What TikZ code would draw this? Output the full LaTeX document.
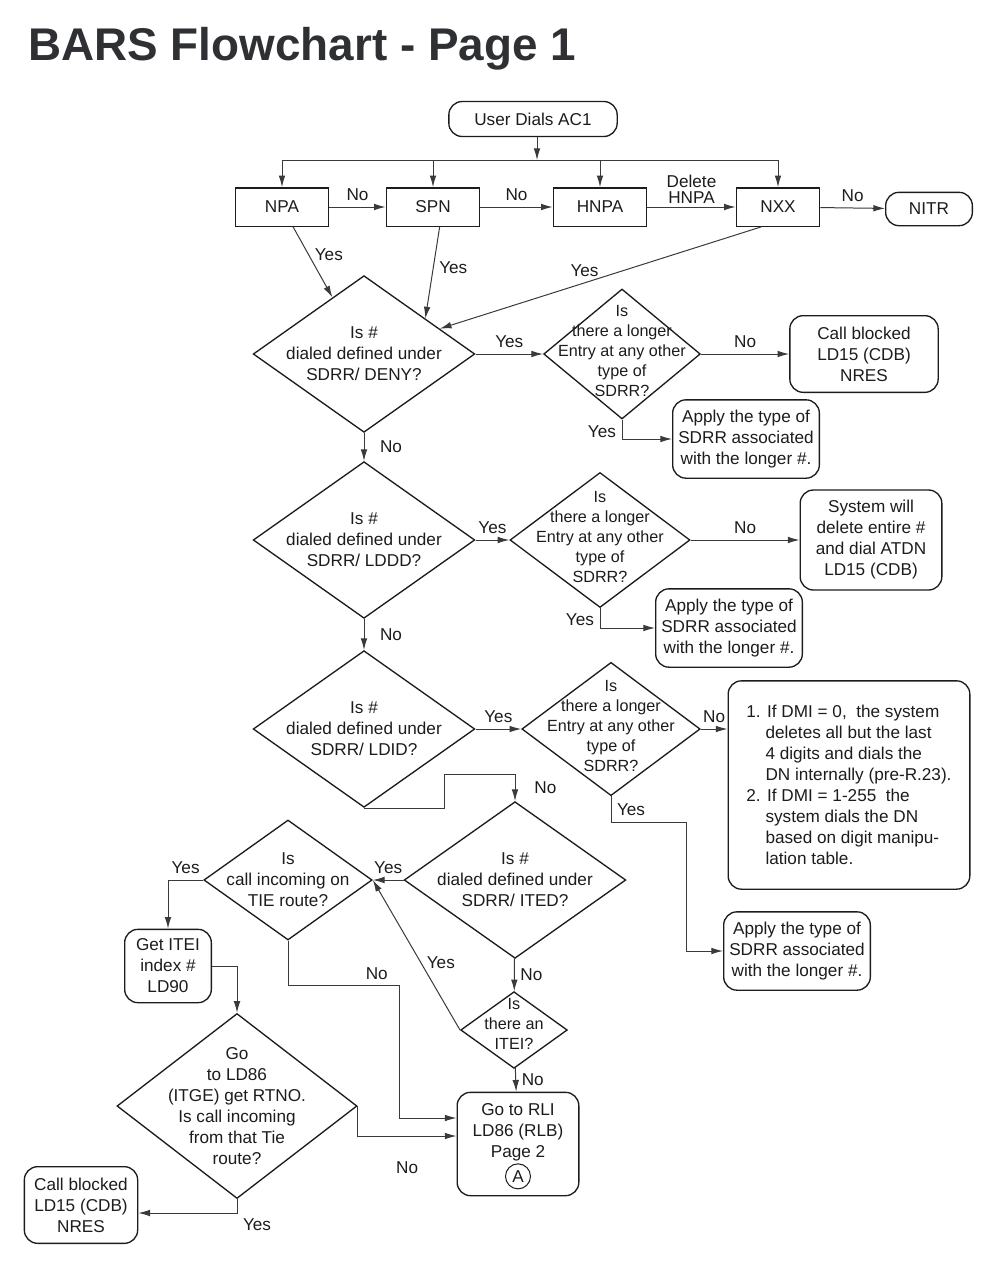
\documentclass[tikz,border=0pt]{standalone}
\usepackage{fontspec}
\setmainfont{Liberation Sans}
\usepackage{tikz}
\usetikzlibrary{shapes.geometric, arrows.meta, calc}
\definecolor{ChartInk}{HTML}{1C1C1C}
\definecolor{ChartLine}{HTML}{3A3A3A}
\definecolor{ChartTitle}{HTML}{2E3033}
\newcommand{\cont}{\hphantom{1.\ }}

\begin{document}
\begin{tikzpicture}[x=0.6pt, y=-0.6pt, every node/.style={font=\fontsize{10.3}{12.6}\selectfont, text=ChartInk}]
      \tikzset{
        proc/.style={rectangle, draw=ChartInk, line width=0.8pt, minimum width=56pt, minimum height=23pt, align=center},
        term/.style={rectangle, rounded corners=8pt, draw=ChartInk, line width=0.8pt, align=center, inner sep=2pt},
        quest/.style={diamond, draw=ChartInk, line width=0.8pt, align=center, inner sep=-40pt, minimum width=133pt, minimum height=94pt},
        longer/.style={quest, font=\fontsize{9.7}{12}\selectfont},
        line/.style={-{Latex[length=7pt, width=4pt]}, line width=0.6pt, color=ChartLine}
      }
      \useasboundingbox (0,0) rectangle (1000,1280);
      \node[anchor=base west, inner sep=0pt, font=\fontsize{27.5}{32}\selectfont\bfseries, text=ChartTitle] (title) at (28,60) {BARS Flowchart - Page 1};

      % top row
      \node[term, minimum width=101pt, minimum height=21pt] (dials) at (533,119) {User Dials AC1};
      \coordinate (fan) at (537,160);
      \node[proc] (npa) at (282,207) {NPA};
      \node[proc] (spn) at (433,207) {SPN};
      \node[proc] (hnpa) at (600,207) {HNPA};
      \node[proc, minimum width=50pt] (nxx) at (778,207) {NXX};
      \node[term, minimum width=52pt, minimum height=20pt] (nitr) at (929,209) {NITR};

      % SDRR checks
      \node[quest] (deny) at (364,354) {Is \#\\dialed defined under\\SDRR/ DENY?};
      \node[longer, minimum width=94pt, minimum height=78pt] (longerA) at (622,354) {Is\\there a longer\\Entry at any other\\type of\\SDRR?\\[-8pt]\mbox{}};
      \node[term, minimum width=89pt, minimum height=46pt] (blockedA) at (864,354) {Call blocked\\LD15 (CDB)\\NRES};
      \node[term, minimum width=88pt, minimum height=47pt] (applyA) at (746,439) {Apply the type of\\SDRR associated\\with the longer \#.};

      \node[quest] (lddd) at (364,540) {Is \#\\dialed defined under\\SDRR/ LDDD?};
      \node[longer, minimum width=108pt, minimum height=81pt] (longerB) at (600,540) {Is\\there a longer\\Entry at any other\\type of\\SDRR?\\[-8pt]\mbox{}};
      \node[term, minimum width=85pt, minimum height=60pt] (atdn) at (871,540) {System will\\delete entire \#\\and dial ATDN\\LD15 (CDB)};
      \node[term, minimum width=88pt, minimum height=47pt] (applyB) at (729,628) {Apply the type of\\SDRR associated\\with the longer \#.};

      \node[quest] (ldid) at (364,729) {Is \#\\dialed defined under\\SDRR/ LDID?};
      \node[longer, minimum width=107pt, minimum height=80pt] (longerC) at (611,729) {Is\\there a longer\\Entry at any other\\type of\\SDRR?\\[-8pt]\mbox{}};
      \node[term, minimum width=145pt, minimum height=125pt, align=left] (dmi) at (849,785) {1. If DMI = 0,\ \ the system\\\cont deletes all but the last\\\cont 4 digits and dials the\\\cont DN internally (pre-R.23).\\2. If DMI = 1-255\ \ the\\\cont system dials the DN\\\cont based on digit manipu-\\\cont lation table.};
      \node[term, minimum width=88pt, minimum height=47pt] (applyC) at (797,951) {Apply the type of\\SDRR associated\\with the longer \#.};

      % ITED branch
      \node[quest] (ited) at (515,880) {Is \#\\dialed defined under\\SDRR/ ITED?};
      \node[quest, minimum width=101pt, minimum height=72pt] (tie) at (288,880) {Is\\call incoming on\\TIE route?};
      \node[longer, minimum width=64pt, minimum height=46pt] (itei) at (514,1030) {Is\\there an\\ITEI?\\[-5pt]\mbox{}};
      \node[term, minimum width=73pt, minimum height=62pt] (rli) at (518,1144) {Go to RLI\\LD86 (RLB)\\Page 2\\\strut};
      \node[circle, draw=ChartInk, line width=0.6pt, inner sep=0.5pt, minimum size=15pt] (pageA) at ($(rli.south)+(0,-20)$) {A};
      \node[term, minimum width=52pt, minimum height=44pt] (itgi) at (168,966) {Get ITEI\\index \#\\LD90};
      \node[quest, minimum width=144pt, minimum height=111pt] (rtno) at (237,1106) {Go\\to LD86\\(ITGE) get RTNO.\\Is call incoming\\from that Tie\\route?};
      \node[term, minimum width=68pt, minimum height=46pt] (blockedB) at (81,1205) {Call blocked\\LD15 (CDB)\\NRES};

      \draw[line] (dials.south -| fan) -- (fan);
      \draw[line, -] (npa |- fan) -- (nxx |- fan);
      \draw[line] (npa |- fan) -- (npa);
      \draw[line] (spn |- fan) -- (spn);
      \draw[line] (hnpa |- fan) -- (hnpa);
      \draw[line] (nxx |- fan) -- (nxx);
      \draw[line] (npa) -- (spn) node[midway, above] {No};
      \draw[line] (spn) -- (hnpa) node[midway, above] {No};
      \draw[line] (hnpa) -- (nxx) node[midway, above, inner sep=2pt, align=center, font=\fontsize{10.3}{9.5}\selectfont] {Delete\\HNPA};
      \draw[line] (nxx) -- (nitr) node[midway, above] {No};

      \draw[line] (npa) -- (deny) node[pos=0.4, right] {Yes};
      \draw[line] ([xshift=4pt]spn.south) -- ($(deny.north)!0.55!(deny.east)$) node[pos=0.45, right] {Yes};
      \draw[line] ([xshift=-10pt]nxx.south) -- ($(deny.north)!0.68!(deny.east)$) node[pos=0.55, above] {Yes};

      \draw[line] (deny) -- (longerA) node[midway, above] {Yes};
      \draw[line] (longerA) -- (blockedA) node[midway, above] {No};
      \draw[line] (longerA.south) |- (applyA) node[pos=0.3, left] {Yes};
      \draw[line] (deny) -- (lddd) node[midway, right=6pt] {No};

      \draw[line] (lddd) -- (longerB) node[midway, above] {Yes};
      \draw[line] (longerB) -- (atdn) node[midway, above] {No};
      \draw[line] (longerB.south) |- (applyB) node[pos=0.3, left] {Yes};
      \draw[line] (lddd) -- (ldid) node[midway, right=6pt] {No};

      \draw[line] (ldid) -- (longerC) node[midway, above] {Yes};
      \draw[line] (longerC.east) -- (longerC.east -| dmi.west) node[midway, above] {No};
      \draw[line] (longerC.south) -- ++(0,26) node[midway, right] {Yes} -- ++(75,0) |- (applyC.west);
      \draw[line] (ldid.south) -- ++(80,0) -- ++(0,-34) -| (ited.north) node[pos=0.75, right=8pt] {No};

      \draw[line] (ited) -- (tie) node[midway, above] {Yes};
      \draw[line] (ited) -- (itei) node[midway, right] {No};
      \draw[line] (itei.west) -- (tie.east) node[pos=0.45, right] {Yes};
      \draw[line] (itei) -- (rli) node[midway, right] {No};
      \draw[line] (tie.south) -- ++(0,45) -- ++(111,0) node[pos=0.8, above] {No} |- ([yshift=15.6pt]rli.west);
      \draw[line] (tie.west) -| (itgi) node[pos=0.25, above] {Yes};
      \draw[line] (itgi) -| (rtno);
      \draw[line] (rtno.east) |- ([yshift=4.8pt]rli.west) node[pos=0.75, below=12pt] {No};
      \draw[line] (rtno.south) |- ([yshift=-4.8pt]blockedB.east) node[pos=0.5, below right] {Yes};
    \end{tikzpicture}
\end{document}
